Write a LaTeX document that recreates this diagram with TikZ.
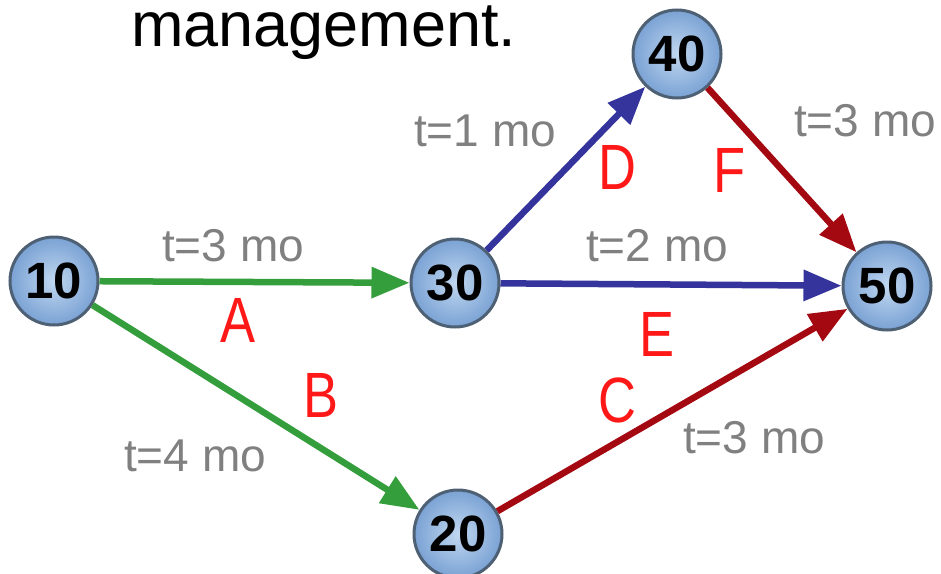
\documentclass[tikz,border=0pt]{standalone}
\usepackage{fontspec}
\setmainfont{Liberation Sans}
\newfontfamily\taskfont[FakeStretch=0.82]{Liberation Sans}
\usetikzlibrary{arrows.meta}
\definecolor{EventBlue}{RGB}{122,162,212}
\definecolor{EventLight}{RGB}{192,215,240}
\definecolor{EventRim}{RGB}{78,96,116}
\definecolor{PathGreen}{RGB}{52,158,60}
\definecolor{PathBlue}{RGB}{52,52,156}
\definecolor{PathRed}{RGB}{164,8,16}
\definecolor{TimeGray}{RGB}{128,128,128}
\definecolor{TaskRed}{RGB}{255,24,24}

\begin{document}
\begin{tikzpicture}[
          x=1pt, y=-1pt,
          event/.style={circle, draw=EventRim, line width=3pt, inner color=EventLight, outer color=EventBlue, minimum size=88pt, inner sep=0pt, font=\fontsize{51}{51}\selectfont\bfseries},
          flow/.style={-{Triangle[length=38pt, width=30pt]}, line width=6.5pt},
          time/.style={text=TimeGray, inner sep=0pt, font=\fontsize{46}{46}\selectfont},
          task/.style={text=TaskRed, inner sep=0pt, font=\taskfont\fontsize{64}{64}\selectfont}
        ]
          \useasboundingbox (0,0) rectangle (941,573);
          \node[anchor=base west, inner sep=0pt, font=\fontsize{63}{63}\selectfont] (title) at (131,46) {management.};

          \node[event] (n10) at (54,281) {10};
          \node[event] (n30) at (455,283) {30};
          \node[event] (n40) at (677,54) {40};
          \node[event] (n50) at (887,286) {50};
          \node[event] (n20) at (458,534) {20};

          \draw[flow, PathGreen] (n10) -- (n30);
          \draw[flow, PathGreen] (n10) -- (n20);
          \draw[flow, PathRed] (n20) -- (n50);
          \draw[flow, PathBlue] (n30) -- (n40);
          \draw[flow, PathBlue] (n30) -- (n50);
          \draw[flow, PathRed] (n40) -- (n50);

          \node[time] (tA) at (233,246) {t=3 mo};
          \node[task] (lA) at (238,320) {A};
          \node[time] (tB) at (195,456) {t=4 mo};
          \node[task] (lB) at (321,395) {B};
          \node[time] (tC) at (754,438) {t=3 mo};
          \node[task] (lC) at (617,400) {C};
          \node[time] (tD) at (485,131) {t=1 mo};
          \node[task] (lD) at (617,167) {D};
          \node[time] (tE) at (657,246) {t=2 mo};
          \node[task] (lE) at (657,334) {E};
          \node[time] (tF) at (865,121) {t=3 mo};
          \node[task] (lF) at (730,170) {F};
        \end{tikzpicture}
\end{document}
